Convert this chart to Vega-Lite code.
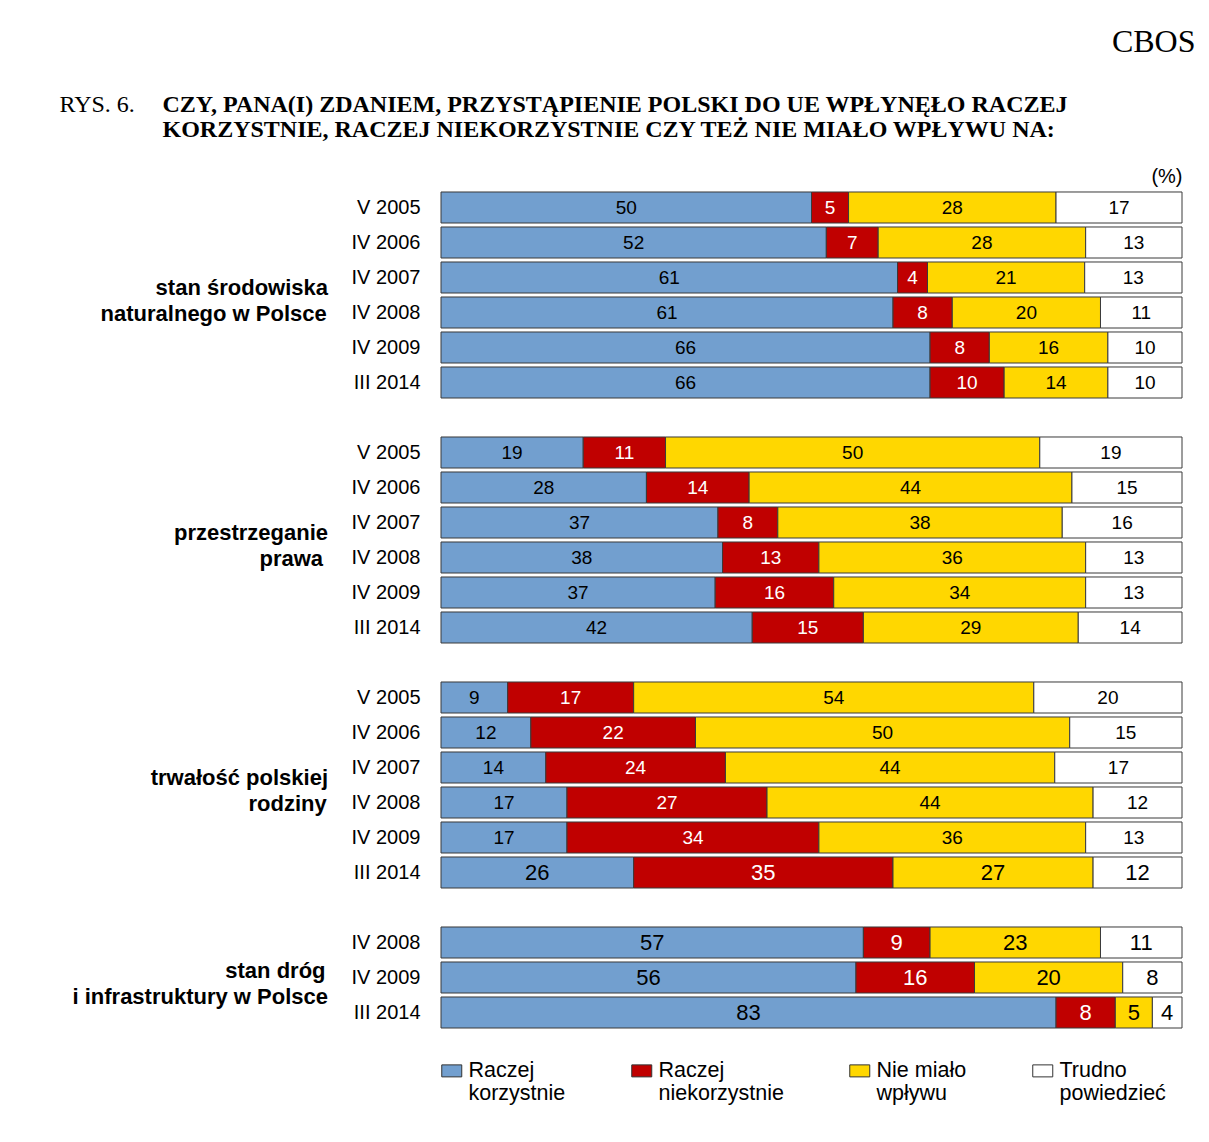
{
  "$schema": "https://vega.github.io/schema/vega-lite/v6.json",
  "background": "white",
  "padding": {"left": 59, "top": 26, "right": 10, "bottom": 10},
  "title": {"text": "CBOS", "anchor": "end", "font": "Liberation Serif", "fontSize": 32, "fontWeight": "normal", "color": "black", "offset": 34, "dx": 13},
  "vconcat": [
    {
      "title": {
        "text": "RYS. 6.",
        "anchor": "start",
        "frame": "bounds",
        "font": "Liberation Serif",
        "fontSize": 24,
        "fontWeight": "normal",
        "color": "black",
        "offset": -24,
        "dx": -13
      },
      "vconcat": [
        {
          "title": {
            "text": ["CZY, PANA(I) ZDANIEM, PRZYSTĄPIENIE POLSKI DO UE WPŁYNĘŁO RACZEJ", "KORZYSTNIE, RACZEJ NIEKORZYSTNIE CZY TEŻ NIE MIAŁO WPŁYWU NA:"],
            "anchor": "start",
            "frame": "bounds",
            "font": "Liberation Serif",
            "fontSize": 24,
            "fontWeight": "bold",
            "color": "black",
            "lineHeight": 25,
            "offset": 24,
            "dx": 90
          },
          "data": {
            "values": [
              {"group": "stan środowiska|naturalnego w Polsce", "period": "V 2005", "Raczej korzystnie": 50, "Raczej niekorzystnie": 5, "Nie miało wpływu": 28, "Trudno powiedzieć": 17},
              {"group": "stan środowiska|naturalnego w Polsce", "period": "IV 2006", "Raczej korzystnie": 52, "Raczej niekorzystnie": 7, "Nie miało wpływu": 28, "Trudno powiedzieć": 13},
              {"group": "stan środowiska|naturalnego w Polsce", "period": "IV 2007", "Raczej korzystnie": 61, "Raczej niekorzystnie": 4, "Nie miało wpływu": 21, "Trudno powiedzieć": 13},
              {"group": "stan środowiska|naturalnego w Polsce", "period": "IV 2008", "Raczej korzystnie": 61, "Raczej niekorzystnie": 8, "Nie miało wpływu": 20, "Trudno powiedzieć": 11},
              {"group": "stan środowiska|naturalnego w Polsce", "period": "IV 2009", "Raczej korzystnie": 66, "Raczej niekorzystnie": 8, "Nie miało wpływu": 16, "Trudno powiedzieć": 10},
              {"group": "stan środowiska|naturalnego w Polsce", "period": "III 2014", "Raczej korzystnie": 66, "Raczej niekorzystnie": 10, "Nie miało wpływu": 14, "Trudno powiedzieć": 10},
              {"group": "przestrzeganie|prawa", "period": "V 2005", "Raczej korzystnie": 19, "Raczej niekorzystnie": 11, "Nie miało wpływu": 50, "Trudno powiedzieć": 19},
              {"group": "przestrzeganie|prawa", "period": "IV 2006", "Raczej korzystnie": 28, "Raczej niekorzystnie": 14, "Nie miało wpływu": 44, "Trudno powiedzieć": 15},
              {"group": "przestrzeganie|prawa", "period": "IV 2007", "Raczej korzystnie": 37, "Raczej niekorzystnie": 8, "Nie miało wpływu": 38, "Trudno powiedzieć": 16},
              {"group": "przestrzeganie|prawa", "period": "IV 2008", "Raczej korzystnie": 38, "Raczej niekorzystnie": 13, "Nie miało wpływu": 36, "Trudno powiedzieć": 13},
              {"group": "przestrzeganie|prawa", "period": "IV 2009", "Raczej korzystnie": 37, "Raczej niekorzystnie": 16, "Nie miało wpływu": 34, "Trudno powiedzieć": 13},
              {"group": "przestrzeganie|prawa", "period": "III 2014", "Raczej korzystnie": 42, "Raczej niekorzystnie": 15, "Nie miało wpływu": 29, "Trudno powiedzieć": 14},
              {"group": "trwałość polskiej|rodziny", "period": "V 2005", "Raczej korzystnie": 9, "Raczej niekorzystnie": 17, "Nie miało wpływu": 54, "Trudno powiedzieć": 20},
              {"group": "trwałość polskiej|rodziny", "period": "IV 2006", "Raczej korzystnie": 12, "Raczej niekorzystnie": 22, "Nie miało wpływu": 50, "Trudno powiedzieć": 15},
              {"group": "trwałość polskiej|rodziny", "period": "IV 2007", "Raczej korzystnie": 14, "Raczej niekorzystnie": 24, "Nie miało wpływu": 44, "Trudno powiedzieć": 17},
              {"group": "trwałość polskiej|rodziny", "period": "IV 2008", "Raczej korzystnie": 17, "Raczej niekorzystnie": 27, "Nie miało wpływu": 44, "Trudno powiedzieć": 12},
              {"group": "trwałość polskiej|rodziny", "period": "IV 2009", "Raczej korzystnie": 17, "Raczej niekorzystnie": 34, "Nie miało wpływu": 36, "Trudno powiedzieć": 13},
              {"group": "trwałość polskiej|rodziny", "period": "III 2014", "Raczej korzystnie": 26, "Raczej niekorzystnie": 35, "Nie miało wpływu": 27, "Trudno powiedzieć": 12},
              {"group": "stan dróg|i infrastruktury w Polsce", "period": "IV 2008", "Raczej korzystnie": 57, "Raczej niekorzystnie": 9, "Nie miało wpływu": 23, "Trudno powiedzieć": 11},
              {"group": "stan dróg|i infrastruktury w Polsce", "period": "IV 2009", "Raczej korzystnie": 56, "Raczej niekorzystnie": 16, "Nie miało wpływu": 20, "Trudno powiedzieć": 8},
              {"group": "stan dróg|i infrastruktury w Polsce", "period": "III 2014", "Raczej korzystnie": 83, "Raczej niekorzystnie": 8, "Nie miało wpływu": 5, "Trudno powiedzieć": 4}
            ]
          },
          "transform": [
            {"fold": ["Raczej korzystnie", "Raczej niekorzystnie", "Nie miało wpływu", "Trudno powiedzieć"], "as": ["cat", "value"]},
            {"lookup": "cat", "from": {"data": {"values": [
              {"cat": "Raczej korzystnie", "o": 1},
              {"cat": "Raczej niekorzystnie", "o": 2},
              {"cat": "Nie miało wpływu", "o": 3},
              {"cat": "Trudno powiedzieć", "o": 4}
            ]}, "key": "cat", "fields": ["o"]}}
          ],
          "facet": {
            "row": {
              "field": "group",
              "type": "nominal",
              "sort": ["stan środowiska|naturalnego w Polsce", "przestrzeganie|prawa", "trwałość polskiej|rodziny", "stan dróg|i infrastruktury w Polsce"],
              "title": null,
              "header": {
                "labelOrient": "left",
                "labelAngle": 0,
                "labelAlign": "left",
                "labelBaseline": "alphabetic",
                "labelAnchor": "middle",
                "labelFont": "Liberation Sans",
                "labelFontSize": 22,
                "labelFontWeight": "bold",
                "labelColor": "black",
                "labelLineHeight": 26,
                "labelPadding": 23,
                "labelExpr": "datum.value == 'stan środowiska|naturalnego w Polsce' ? ['\u200b' + pad('', 9, '\u00a0') + 'stan środowiska', 'naturalnego w Polsce'] : datum.value == 'przestrzeganie|prawa' ? ['przestrzeganie', '\u200b' + pad('', 14, '\u00a0') + 'prawa'] : datum.value == 'trwałość polskiej|rodziny' ? ['trwałość polskiej', '\u200b' + pad('', 16, '\u00a0') + 'rodziny'] : ['\u200b' + pad('', 25, '\u00a0') + 'stan dróg', 'i infrastruktury w Polsce']"
              }
            }
          },
          "spacing": 35,
          "resolve": {"scale": {"y": "independent"}},
          "spec": {
            "width": 741,
            "height": {"step": 35},
            "encoding": {
              "y": {
                "field": "period",
                "type": "nominal",
                "sort": ["V 2005", "IV 2006", "IV 2007", "IV 2008", "IV 2009", "III 2014"],
                "scale": {"paddingInner": 0.114, "paddingOuter": 0.057},
                "axis": {"title": null, "ticks": false, "domain": false, "labelFont": "Liberation Sans", "labelFontSize": 20, "labelColor": "black", "labelPadding": 21}
              }
            },
            "layer": [
              {
                "mark": {"type": "bar", "stroke": "#3a3a3a", "strokeWidth": 1},
                "encoding": {
                  "x": {
                    "field": "value",
                    "type": "quantitative",
                    "stack": "normalize",
                    "axis": {"orient": "top", "title": "(%)", "labels": false, "ticks": false, "domain": false, "grid": false, "titleFont": "Liberation Sans", "titleFontSize": 20, "titleFontWeight": "normal", "titleColor": "black", "titleAnchor": "end", "titlePadding": 4}
                  },
                  "color": {
                    "field": "cat",
                    "type": "nominal",
                    "scale": {"domain": ["Raczej korzystnie", "Raczej niekorzystnie", "Nie miało wpływu", "Trudno powiedzieć"], "range": ["#729FCF", "#C00000", "#FFD700", "#FFFFFF"]},
                    "legend": {
                      "orient": "bottom",
                      "direction": "horizontal",
                      "title": null,
                      "symbolType": "M-1,-0.6H1V0.6H-1Z",
                      "symbolSize": 400,
                      "symbolStrokeColor": "#333333",
                      "symbolStrokeWidth": 1,
                      "labelFont": "Liberation Sans",
                      "labelFontSize": 21.5,
                      "labelColor": "black",
                      "labelOffset": 6,
                      "labelBaseline": "middle",
                      "columnPadding": 63,
                      "offset": 30,
                      "labelExpr": "datum.label == 'Nie miało wpływu' ? ['Nie miało', 'wpływu'] : split(datum.label, ' ')"
                    }
                  },
                  "order": {"field": "o", "type": "quantitative"}
                }
              },
              {
                "mark": {"type": "text", "font": "Liberation Sans"},
                "encoding": {
                  "x": {"field": "value", "type": "quantitative", "stack": "normalize", "bandPosition": 0.5},
                  "detail": {"field": "cat", "type": "nominal"},
                  "order": {"field": "o", "type": "quantitative"},
                  "text": {"field": "value", "type": "quantitative"},
                  "color": {"condition": {"test": "datum.cat === 'Raczej niekorzystnie'", "value": "white"}, "value": "black"},
                  "size": {"condition": {"test": "datum.group === 'stan dróg|i infrastruktury w Polsce' || (datum.group === 'trwałość polskiej|rodziny' && datum.period === 'III 2014')", "value": 22}, "value": 19}
                }
              }
            ]
          }
        }
      ]
    }
  ],
  "config": {
    "view": {"stroke": null},
    "font": "Liberation Sans"
  }
}
